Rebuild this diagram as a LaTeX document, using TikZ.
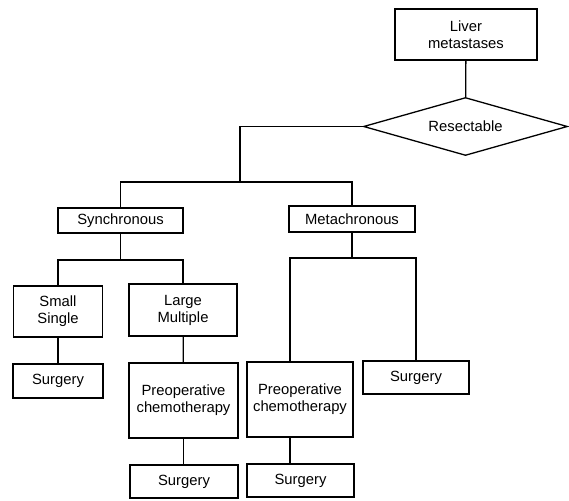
\documentclass[tikz,border=0pt]{standalone}
\usepackage{fontspec}
\setmainfont{Liberation Sans}
\usetikzlibrary{shapes.geometric}
\begin{document}
\begin{tikzpicture}[x=1pt,y=-1pt,
  every path/.style={line width=1.3pt},
  box/.style={draw,line width=1.3pt,rectangle,inner sep=0pt,align=center,
    font=\fontsize{14.8}{17}\selectfont},
  dia/.style={draw,line width=1.3pt,diamond,inner sep=0pt,aspect=3.5,
    font=\fontsize{14.8}{17}\selectfont}]
\useasboundingbox (0,0) rectangle (569,500);
\node[box,minimum width=142pt,minimum height=51pt] (liver) at (466,34.5) {Liver\\metastases};
\node[dia,minimum width=204pt,minimum height=58pt] (res) at (465.5,126.5) {Resectable};
\node[box,minimum width=125pt,minimum height=25pt] (sync) at (120.5,220.5) {Synchronous};
\node[box,minimum width=126pt,minimum height=26pt] (meta) at (352,219) {Metachronous};
\node[box,minimum width=89pt,minimum height=51pt] (small) at (58,311.5) {Small\\Single};
\node[box,minimum width=108pt,minimum height=52pt] (large) at (183,310) {Large\\Multiple};
\node[box,minimum width=90pt,minimum height=34pt] (surg1) at (58,381) {Surgery};
\node[box,minimum width=109pt,minimum height=75pt] (pre1) at (183.5,400.5) {Preoperative\\chemotherapy};
\node[box,minimum width=108pt,minimum height=33pt] (surg3) at (184,481.5) {Surgery};
\node[box,minimum width=106pt,minimum height=75pt] (pre2) at (300,399.5) {Preoperative\\chemotherapy};
\node[box,minimum width=107pt,minimum height=33pt] (surg4) at (300.5,480.5) {Surgery};
\node[box,minimum width=106pt,minimum height=33pt] (surg2) at (416,377.5) {Surgery};
\coordinate (j1) at (240,182);
\coordinate (j2) at (120.5,260);
\coordinate (j3) at (352,258);
\coordinate (j3l) at (290,258);
\draw (liver) -- (res);
\draw (res.west) -| (j1);
\draw (sync.north) |- (j1) -| (meta.north);
\draw (sync) -- (j2);
\draw (small.north) |- (j2) -| (large.north);
\draw (meta) -- (j3);
\draw (pre2.north -| j3l) |- (j3) -| (surg2.north);
\draw (pre2.south -| j3l) -- (surg4.north -| j3l);
\draw (small) -- (surg1);
\draw (large) -- (pre1);
\draw (pre1.south) -- (surg3.north -| pre1.south);
\end{tikzpicture}
\end{document}
